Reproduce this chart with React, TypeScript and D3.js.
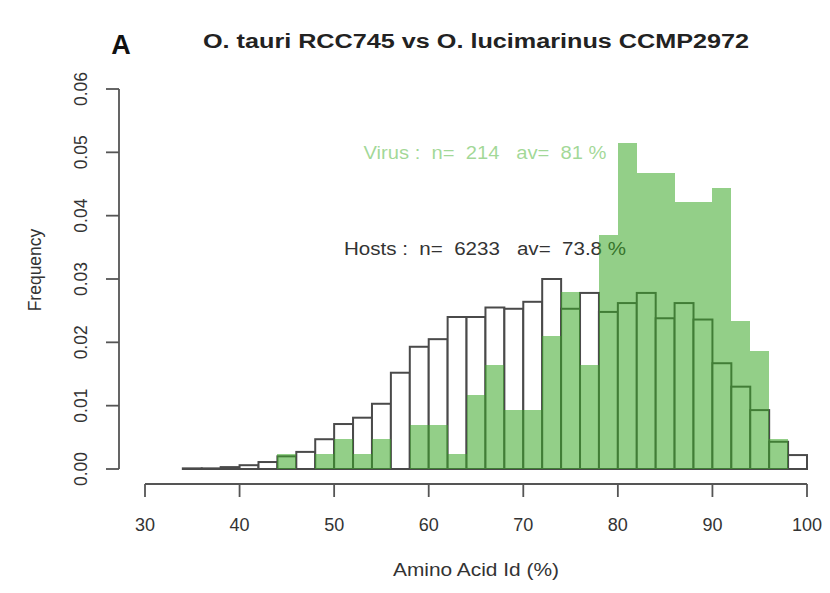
import React from "react";
import * as d3 from "d3";

const binStarts = d3.range(34, 100, 2);
const hostFreq = [
  0.0001, 0.0001, 0.0003, 0.0006, 0.0011, 0.002, 0.0027, 0.0047, 0.0071, 0.0081,
  0.0103, 0.0152, 0.0193, 0.0205, 0.024, 0.024, 0.0255, 0.0253, 0.0264, 0.03,
  0.0253, 0.0278, 0.0248, 0.0262, 0.0278, 0.0238, 0.0262, 0.0236, 0.0167, 0.013,
  0.0093, 0.0043, 0.0022,
];
const virusFreq = [
  0, 0, 0, 0, 0, 0.0023, 0, 0.0023, 0.0047, 0.0023,
  0.0047, 0, 0.007, 0.007, 0.0023, 0.0117, 0.0164, 0.0093, 0.0093, 0.021,
  0.028, 0.0164, 0.0369, 0.0514, 0.0467, 0.0467, 0.0421, 0.0421, 0.0444, 0.0234,
  0.0187, 0.0047, 0,
];
const xTicks = [30, 40, 50, 60, 70, 80, 90, 100];
const yTicks = [0, 0.01, 0.02, 0.03, 0.04, 0.05, 0.06];
const title = "O. tauri RCC745 vs O. lucimarinus CCMP2972";
const panelLabel = "A";
const xLabel = "Amino Acid Id (%)";
const yLabel = "Frequency";
const virusText = "Virus :  n=  214   av=  81 %";
const hostText = "Hosts :  n=  6233   av=  73.8 %";

const FONT = "'Liberation Sans', Arial, Helvetica, sans-serif";
const GREEN = "rgba(58,168,38,0.55)";
const AXIS = "#555";
const TEXT = "#333";

export default function App() {
  const x = d3.scaleLinear().domain([30, 100]).range([145, 807]);
  const y = d3.scaleLinear().domain([0, 0.06]).range([469, 89]);
  const binW = 2;
  const yFmt = d3.format(".2f");

  return (
    <svg
      width={830}
      height={593}
      style={{ position: "absolute", left: 0, top: 0, background: "#fff" }}
      fontFamily={FONT}
    >
      <rect x={0} y={0} width={830} height={593} fill="#fff" />
      {/* panel label and title */}
      <text x={121} y={54} fontSize={27} fontWeight="bold" textAnchor="middle" fill="#111">
        {panelLabel}
      </text>
      <text
        x={476}
        y={48}
        fontSize={20}
        fontWeight="bold"
        textAnchor="middle"
        fill="#222"
        textLength={546}
        lengthAdjust="spacingAndGlyphs"
      >
        {title}
      </text>

      {/* host bars */}
      {binStarts.map((b, i) => (
        <rect
          key={"h" + b}
          x={x(b)}
          y={y(hostFreq[i])}
          width={x(b + binW) - x(b)}
          height={y(0) - y(hostFreq[i])}
          fill="#fff"
          stroke="#4a4a4a"
          strokeWidth={2}
        />
      ))}

      <text
        x={485}
        y={255}
        fontSize={17.5}
        textAnchor="middle"
        fill={TEXT}
        textLength={282}
        lengthAdjust="spacingAndGlyphs"
        style={{ whiteSpace: "pre" }}
      >
        {hostText}
      </text>

      {/* virus bars */}
      <g shapeRendering="crispEdges">
        {binStarts.map((b, i) =>
          virusFreq[i] > 0 ? (
            <rect
              key={"v" + b}
              x={Math.round(x(b))}
              y={y(virusFreq[i])}
              width={Math.round(x(b + binW)) - Math.round(x(b))}
              height={y(0) - y(virusFreq[i])}
              fill={GREEN}
              stroke="none"
            />
          ) : null
        )}
      </g>

      <text
        x={485}
        y={159}
        fontSize={17.5}
        textAnchor="middle"
        fill="rgba(100,190,80,0.6)"
        textLength={243}
        lengthAdjust="spacingAndGlyphs"
        style={{ whiteSpace: "pre" }}
      >
        {virusText}
      </text>

      {/* x axis */}
      <line x1={x(30)} x2={x(100)} y1={484} y2={484} stroke={AXIS} strokeWidth={1.8} />
      {xTicks.map((t) => (
        <g key={"xt" + t}>
          <line x1={x(t)} x2={x(t)} y1={484} y2={497} stroke={AXIS} strokeWidth={1.8} />
          <text x={x(t)} y={531} fontSize={18} textAnchor="middle" fill={TEXT}>
            {t}
          </text>
        </g>
      ))}
      <text
        x={476}
        y={576}
        fontSize={17.5}
        textAnchor="middle"
        fill={TEXT}
        textLength={166}
        lengthAdjust="spacingAndGlyphs"
      >
        {xLabel}
      </text>

      {/* y axis */}
      <line x1={119} x2={119} y1={y(0)} y2={y(0.06)} stroke={AXIS} strokeWidth={1.8} />
      {yTicks.map((t) => (
        <g key={"yt" + t}>
          <line x1={106} x2={119} y1={y(t)} y2={y(t)} stroke={AXIS} strokeWidth={1.8} />
          <text
            transform={`translate(87,${y(t)}) rotate(-90)`}
            fontSize={17.5}
            textAnchor="middle"
            fill={TEXT}
          >
            {yFmt(t)}
          </text>
        </g>
      ))}
      <text
        transform={`translate(41,270) rotate(-90)`}
        fontSize={17.5}
        textAnchor="middle"
        fill={TEXT}
      >
        {yLabel}
      </text>
    </svg>
  );
}
